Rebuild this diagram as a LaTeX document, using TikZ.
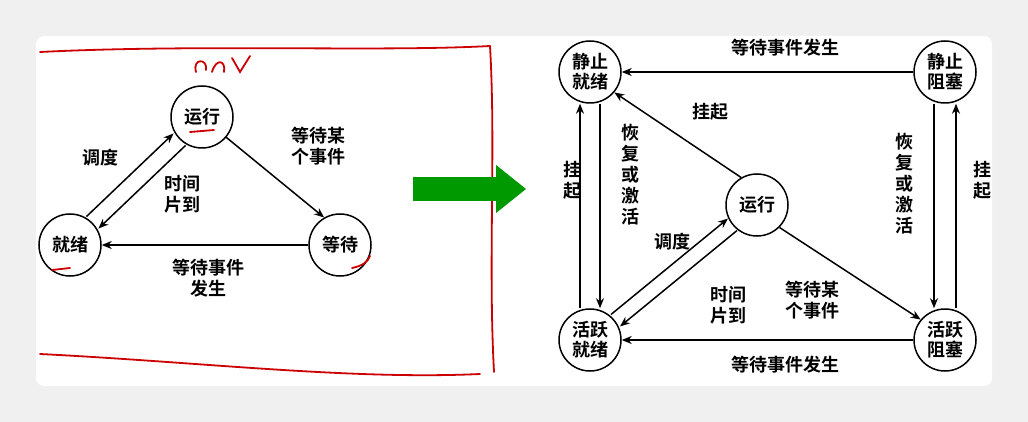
\documentclass[tikz,border=0pt]{standalone}
\usepackage{fontspec}
\newfontfamily\cjk{Noto Sans CJK SC Bold}
\usetikzlibrary{arrows.meta}
\begin{document}
\begin{tikzpicture}[x=1pt,y=-1pt,
  st/.style={circle,draw,line width=1.5pt,minimum size=62pt,inner sep=0pt,font=\cjk\fontsize{18}{20}\selectfont,align=center},
  ar/.style={-{Stealth[length=10pt,width=8pt]},line width=1.5pt},
  lb/.style={font=\cjk\fontsize{18}{21}\selectfont,align=center,inner sep=1pt},
  red/.style={draw=red!80!black,line width=1.8pt,line cap=round}]
\useasboundingbox (0,0) rectangle (1028,422);
\fill[gray!12] (0,0) rectangle (1028,422);
\fill[white,rounded corners=8pt] (36,36) rectangle (992,386);
% left
\node[st] (r) at (202,117) {运行};
\node[st] (j) at (70,245) {就绪};
\node[st] (d) at (340,245) {等待};
\draw[ar] ([shift={(-6,-6)}]j.45) -- ([shift={(-6,-6)}]r.225);
\draw[ar] ([shift={(6,6)}]r.225) -- ([shift={(6,6)}]j.45);
\draw[ar] (r.-40) -- (d.120);
\draw[ar] (d.180) -- (j.0);
\node[lb] at (100,158) {调度};
\node[lb] at (182,194) {时间\\片到};
\node[lb] at (318,146) {等待某\\个事件};
\node[lb] at (208,278) {等待事件\\发生};
% red annotations
\draw[red] (40,52) .. controls (200,44) and (380,52) .. (490,46);
\draw[red] (490,46) .. controls (496,150) and (488,260) .. (494,372);
\draw[red] (40,354) .. controls (200,362) and (350,380) .. (480,374);
\draw[red] (196,72) .. controls (192,58) and (208,58) .. (206,70);
\draw[red] (212,72) .. controls (216,58) and (226,60) .. (224,72);
\draw[red] (232,58) -- (240,72) -- (250,56);
\draw[red] (190,132) -- (214,130);
\draw[red] (52,270) -- (70,268);
\draw[red] (352,268) .. controls (362,266) and (368,262) .. (370,256);
% green arrow
\fill[green!60!black] (413,177) rectangle (496,201);
\fill[green!60!black] (496,165) -- (526,189) -- (496,213) -- cycle;
% right
\node[st] (sj) at (590,72) {静止\\就绪};
\node[st] (sz) at (945,72) {静止\\阻塞};
\node[st] (yr) at (757,205) {运行};
\node[st] (hj) at (590,340) {活跃\\就绪};
\node[st] (hz) at (945,340) {活跃\\阻塞};
\draw[ar] (sz.180) -- (sj.0);
\draw[ar] (yr.120) -- (sj.-40);
\draw[ar] ([xshift=-10]hj.north) -- ([xshift=-10]sj.south);
\draw[ar] ([xshift=10]sj.south) -- ([xshift=10]hj.north);
\draw[ar] ([xshift=-11]sz.south) -- ([xshift=-11]hz.north);
\draw[ar] ([xshift=11]hz.north) -- ([xshift=11]sz.south);
\draw[ar] ([shift={(-4,-6)}]hj.38) -- ([shift={(-4,-6)}]yr.218);
\draw[ar] ([shift={(5,6)}]yr.218) -- ([shift={(5,6)}]hj.38);
\draw[ar] (yr.-45) -- (hz.140);
\draw[ar] (hz.180) -- (hj.0);
\node[lb] at (785,48) {等待事件发生};
\node[lb] at (710,112) {挂起};
\node[lb] at (572,180) {挂\\起};
\node[lb] at (630,175) {恢\\复\\或\\激\\活};
\node[lb] at (904,184) {恢\\复\\或\\激\\活};
\node[lb] at (982,180) {挂\\起};
\node[lb] at (672,242) {调度};
\node[lb] at (728,305) {时间\\片到};
\node[lb] at (812,300) {等待某\\个事件};
\node[lb] at (785,365) {等待事件发生};
\end{tikzpicture}
\end{document}
